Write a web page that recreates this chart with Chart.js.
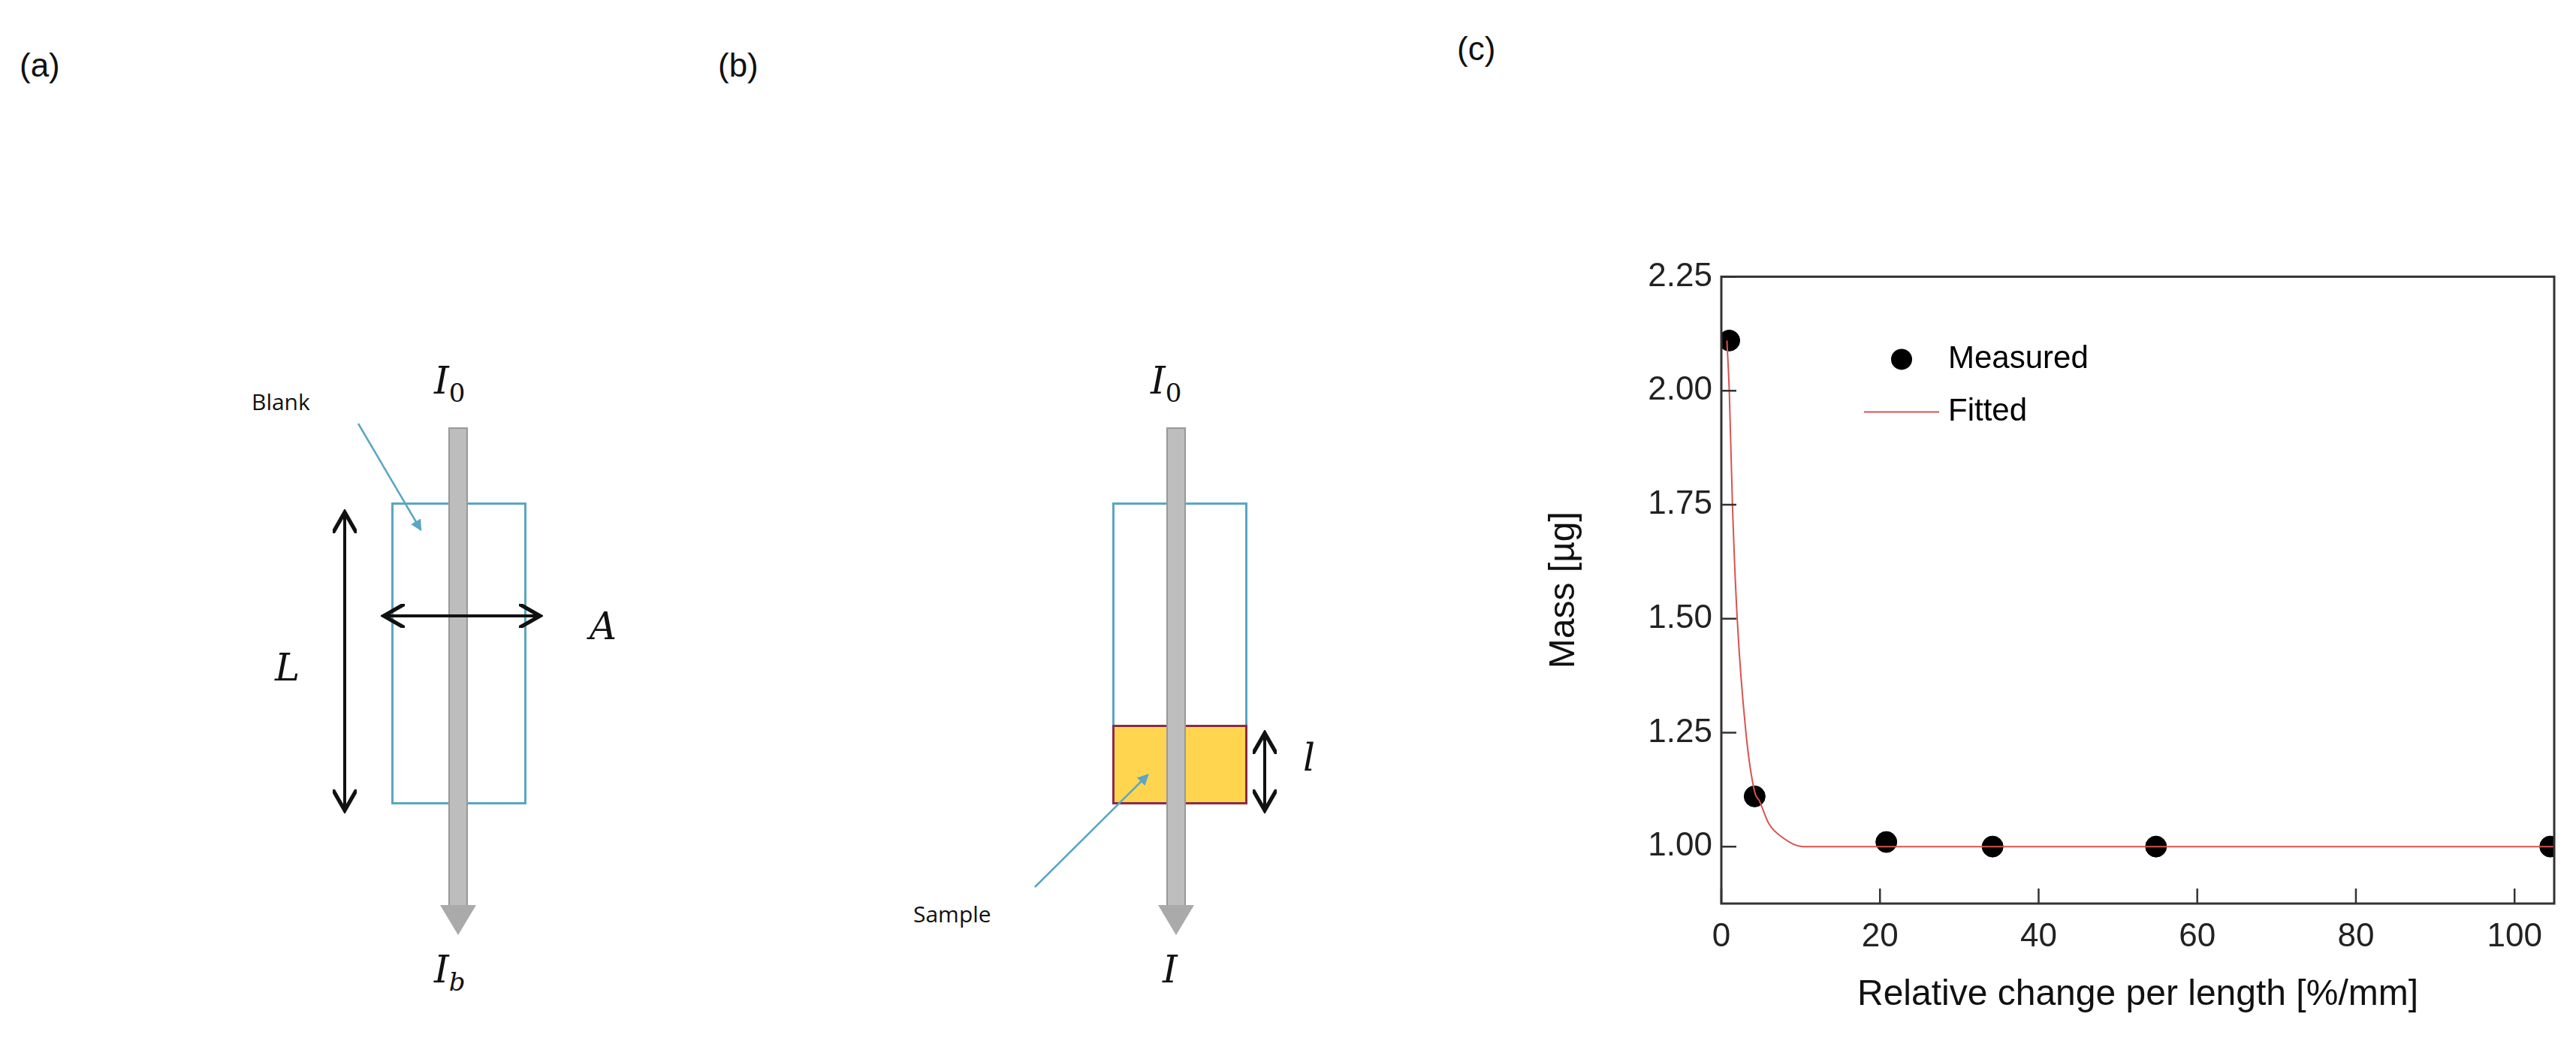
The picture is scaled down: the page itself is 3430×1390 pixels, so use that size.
<!DOCTYPE html>
<html>
<head>
<meta charset="utf-8">
<script src="https://cdn.jsdelivr.net/npm/chart.js@4.4.0/dist/chart.umd.min.js"></script>
<style>
    body { margin: 0; width: 3430px; height: 1390px; background: #fff; position: relative; overflow: hidden; font-family: "Liberation Sans", Arial, sans-serif; }
    .abs { position: absolute; }
    .lbl { font-family: "Liberation Sans", Arial, sans-serif; font-size: 44px; color: #111; }
    .math { font-family: "DejaVu Serif", serif; font-style: italic; font-size: 50px; color: #111; }
    .small { font-family: "Open Sans", sans-serif; font-size: 30px; color: #111; }
    .bar { background: #bdbdbd; border: 2px solid #999; }
    .box { border: 3px solid #5aa6c4; box-sizing: border-box; }
    #chartWrap { position: absolute; left: 2050px; top: 330px; width: 1380px; height: 1060px; }
</style>
</head>
<body>
<div class="abs lbl" style="left:26px;top:62px">(a)</div>
<div class="abs lbl" style="left:956px;top:62px">(b)</div>
<div class="abs lbl" style="left:1940px;top:40px">(c)</div>

<!-- panel a -->
<div class="abs box" style="left:521px;top:669px;width:180px;height:402px"></div>
<div class="abs bar" style="left:597px;top:569px;width:22px;height:640px"></div>
<div class="abs" style="left:586px;top:1205px;width:0;height:0;border-left:24px solid transparent;border-right:24px solid transparent;border-top:40px solid #aaa"></div>

<!-- panel b -->
<div class="abs box" style="left:1481px;top:669px;width:180px;height:402px"></div>
<div class="abs" style="left:1481px;top:965px;width:180px;height:106px;background:#ffd54f;border:3px solid #8b2a4a;box-sizing:border-box"></div>
<div class="abs bar" style="left:1553px;top:569px;width:22px;height:640px"></div>
<div class="abs" style="left:1542px;top:1205px;width:0;height:0;border-left:24px solid transparent;border-right:24px solid transparent;border-top:40px solid #aaa"></div>

<svg class="abs" style="left:0;top:0" width="1900" height="1390">
    <defs>
        <marker id="ah" markerWidth="8" markerHeight="8" refX="6" refY="4" orient="auto-start-reverse" markerUnits="strokeWidth">
            <path d="M0,0 L7,4 L0,8" fill="none" stroke="#111" stroke-width="1.3"/>
        </marker>
        <marker id="bh" markerWidth="6" markerHeight="6" refX="5" refY="3" orient="auto" markerUnits="strokeWidth">
            <path d="M0,0 L6,3 L0,6 z" fill="#5aa6c4"/>
        </marker>
    </defs>
    <line x1="459" y1="1075" x2="459" y2="686" stroke="#111" stroke-width="4" marker-end="url(#ah)" marker-start="url(#ah)"/>
    <line x1="515" y1="820" x2="715" y2="820" stroke="#111" stroke-width="4" marker-end="url(#ah)" marker-start="url(#ah)"/>
    <line x1="477" y1="564" x2="560" y2="705" stroke="#5aa6c4" stroke-width="2.5" marker-end="url(#bh)"/>
    <line x1="1684" y1="1075" x2="1684" y2="980" stroke="#111" stroke-width="4" marker-end="url(#ah)" marker-start="url(#ah)"/>
    <line x1="1378" y1="1181" x2="1528" y2="1032" stroke="#5aa6c4" stroke-width="2.5" marker-end="url(#bh)"/>
</svg>
<div class="abs math" style="left:366px;top:860px">L</div>
<div class="abs math" style="left:785px;top:805px">A</div>
<div class="abs math" style="left:578px;top:478px">I<sub style="font-style:normal;font-size:34px">0</sub></div>
<div class="abs math" style="left:578px;top:1262px">I<sub style="font-size:34px">b</sub></div>
<div class="abs small" style="left:335px;top:514px">Blank</div>
<div class="abs math" style="left:1735px;top:980px">l</div>
<div class="abs math" style="left:1532px;top:478px">I<sub style="font-style:normal;font-size:34px">0</sub></div>
<div class="abs math" style="left:1548px;top:1262px">I</div>
<div class="abs small" style="left:1216px;top:1196px">Sample</div>

<div id="chartWrap"><canvas id="massChart"></canvas></div>

<script>
    const measuredX = [1.0, 4.2, 20.8, 34.2, 54.8, 104.5];
    const measuredY = [2.11, 1.11, 1.01, 1.0, 1.0, 1.0];
    const fittedX = [0.7, 1.0, 1.4, 2.0, 3.1, 4.2, 4.8, 6.0, 7.7, 10.2, 30, 60, 105];
    const fittedY = [2.11, 2.0, 1.75, 1.5, 1.25, 1.12, 1.1, 1.05, 1.02, 1.0, 1.0, 1.0, 1.0];
    const xTicks = [0, 20, 40, 60, 80, 100];
    const yTicks = [1.0, 1.25, 1.5, 1.75, 2.0, 2.25];

    const tickFont = { family: "Liberation Sans", size: 44 };
    const titleFont = { family: "Liberation Sans", size: 48 };

    const framePlugin = {
        id: "frame",
        afterDatasetsDraw(chart) {
            const { ctx, chartArea: a, scales } = chart;
            ctx.save();
            ctx.strokeStyle = "#333";
            ctx.lineWidth = 3;
            ctx.strokeRect(a.left, a.top, a.right - a.left, a.bottom - a.top);
            ctx.lineWidth = 2.5;
            ctx.beginPath();
            xTicks.forEach((v) => {
                const px = scales.x.getPixelForValue(v);
                ctx.moveTo(px, a.bottom);
                ctx.lineTo(px, a.bottom - 20);
            });
            yTicks.forEach((v) => {
                const py = scales.y.getPixelForValue(v);
                ctx.moveTo(a.left, py);
                ctx.lineTo(a.left + 20, py);
            });
            ctx.stroke();

            // legend
            const lx = a.left + 240;
            const ly = a.top + 110;
            ctx.fillStyle = "#000";
            ctx.beginPath();
            ctx.arc(lx, ly, 14, 0, Math.PI * 2);
            ctx.fill();
            ctx.strokeStyle = "#d9534f";
            ctx.lineWidth = 2;
            ctx.beginPath();
            ctx.moveTo(lx - 50, ly + 70);
            ctx.lineTo(lx + 50, ly + 70);
            ctx.stroke();
            ctx.font = "42px 'Liberation Sans'";
            ctx.textBaseline = "middle";
            ctx.fillText("Measured", lx + 62, ly);
            ctx.fillText("Fitted", lx + 62, ly + 70);
            ctx.restore();
        },
    };

    new Chart(document.getElementById("massChart"), {
        type: "scatter",
        data: {
            datasets: [
                {
                    label: "Fitted",
                    type: "line",
                    data: fittedX.map((x, i) => ({ x, y: fittedY[i] })),
                    borderColor: "#d9534f",
                    borderWidth: 2,
                    pointRadius: 0,
                    tension: 0.4,
                    cubicInterpolationMode: "monotone",
                    fill: false,
                },
                {
                    label: "Measured",
                    data: measuredX.map((x, i) => ({ x, y: measuredY[i] })),
                    backgroundColor: "#000",
                    borderColor: "#000",
                    pointRadius: 14,
                },
            ],
        },
        options: {
            responsive: true,
            maintainAspectRatio: false,
            animation: false,
            layout: { padding: { top: 27, right: 29, bottom: 32, left: 0 } },
            plugins: { legend: { display: false }, tooltip: { enabled: false } },
            scales: {
                x: {
                    type: "linear",
                    min: 0,
                    max: 105,
                    afterBuildTicks: (s) => { s.ticks = xTicks.map((v) => ({ value: v })); },
                    afterFit: (s) => { s.height = 155; },
                    grid: { display: false, drawTicks: false },
                    border: { display: false },
                    ticks: { font: tickFont, color: "#222", padding: 18, maxRotation: 0 },
                    title: { display: true, text: "Relative change per length [%/mm]", font: titleFont, color: "#111", padding: { top: 10 } },
                },
                y: {
                    type: "linear",
                    min: 0.875,
                    max: 2.25,
                    afterBuildTicks: (s) => { s.ticks = yTicks.map((v) => ({ value: v })); },
                    afterFit: (s) => { s.width = 242; },
                    grid: { display: false, drawTicks: false },
                    border: { display: false },
                    ticks: { font: tickFont, color: "#222", padding: 12, callback: (v) => v.toFixed(2) },
                    title: { display: true, text: "Mass [µg]", font: titleFont, color: "#111", padding: { bottom: 14 } },
                },
            },
        },
        plugins: [framePlugin],
    });
</script>
</body>
</html>
